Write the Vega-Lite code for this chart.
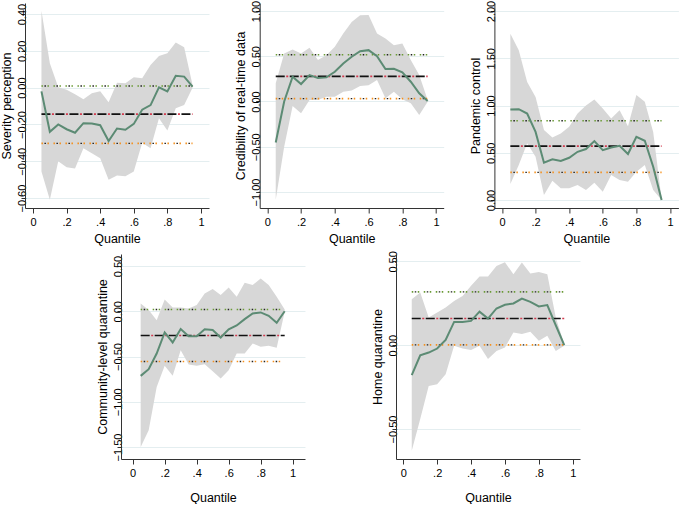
{
  "$schema": "https://vega.github.io/schema/vega-lite/v6.json",
  "background": "white",
  "padding": {"left": 0, "top": 0, "right": 0, "bottom": 0},
  "autosize": {"type": "pad"},
  "config": {
    "view": {"stroke": null},
    "font": "Liberation Sans",
    "axis": {"labelFont": "Liberation Sans", "titleFont": "Liberation Sans", "labelColor": "#000", "titleColor": "#000", "titleFontWeight": "normal", "domainColor": "#333", "tickColor": "#333", "labelFontSize": 11, "titleFontSize": 12.5, "labelOverlap": false},
    "axisY": {"labelAngle": -90, "format": ".2f", "grid": true, "gridColor": "#e4eef0", "gridWidth": 1, "tickSize": 4, "labelPadding": -6, "titlePadding": 3, "labelAlign": "center", "labelBaseline": "bottom", "labelOverlap": false},
    "axisX": {"grid": false, "tickSize": 5, "labelPadding": 3, "titlePadding": 5, "labelOverlap": false, "labelFlush": false}
  },
  "datasets": {
    "qr": [
      {"panel": "p1", "q": 0.05, "b": -0.02, "lo": -0.455, "hi": 0.418},
      {"panel": "p1", "q": 0.10, "b": -0.24, "lo": -0.609, "hi": 0.132},
      {"panel": "p1", "q": 0.15, "b": -0.20, "lo": -0.40, "hi": 0.002},
      {"panel": "p1", "q": 0.20, "b": -0.226, "lo": -0.432, "hi": -0.012},
      {"panel": "p1", "q": 0.25, "b": -0.245, "lo": -0.44, "hi": -0.036},
      {"panel": "p1", "q": 0.30, "b": -0.193, "lo": -0.329, "hi": -0.063},
      {"panel": "p1", "q": 0.35, "b": -0.195, "lo": -0.356, "hi": -0.03},
      {"panel": "p1", "q": 0.40, "b": -0.204, "lo": -0.383, "hi": -0.02},
      {"panel": "p1", "q": 0.45, "b": -0.29, "lo": -0.50, "hi": -0.08},
      {"panel": "p1", "q": 0.50, "b": -0.222, "lo": -0.477, "hi": 0.027},
      {"panel": "p1", "q": 0.55, "b": -0.229, "lo": -0.482, "hi": 0.024},
      {"panel": "p1", "q": 0.60, "b": -0.197, "lo": -0.455, "hi": 0.056},
      {"panel": "p1", "q": 0.65, "b": -0.12, "lo": -0.30, "hi": 0.051},
      {"panel": "p1", "q": 0.70, "b": -0.095, "lo": -0.329, "hi": 0.123},
      {"panel": "p1", "q": 0.75, "b": 0.002, "lo": -0.166, "hi": 0.172},
      {"panel": "p1", "q": 0.80, "b": -0.021, "lo": -0.233, "hi": 0.187},
      {"panel": "p1", "q": 0.85, "b": 0.064, "lo": -0.112, "hi": 0.245},
      {"panel": "p1", "q": 0.90, "b": 0.06, "lo": -0.094, "hi": 0.219},
      {"panel": "p1", "q": 0.95, "b": 0.006, "lo": 0.0, "hi": 0.015},

      {"panel": "p2", "q": 0.05, "b": -0.453, "lo": -1.085, "hi": 0.2},
      {"panel": "p2", "q": 0.10, "b": 0.0, "lo": -0.5, "hi": 0.53},
      {"panel": "p2", "q": 0.15, "b": 0.273, "lo": -0.05, "hi": 0.574},
      {"panel": "p2", "q": 0.20, "b": 0.193, "lo": -0.13, "hi": 0.53},
      {"panel": "p2", "q": 0.25, "b": 0.292, "lo": 0.017, "hi": 0.593},
      {"panel": "p2", "q": 0.30, "b": 0.259, "lo": 0.017, "hi": 0.457},
      {"panel": "p2", "q": 0.35, "b": 0.266, "lo": 0.053, "hi": 0.512},
      {"panel": "p2", "q": 0.40, "b": 0.328, "lo": 0.053, "hi": 0.604},
      {"panel": "p2", "q": 0.45, "b": 0.42, "lo": 0.108, "hi": 0.75},
      {"panel": "p2", "q": 0.50, "b": 0.494, "lo": 0.12, "hi": 0.879},
      {"panel": "p2", "q": 0.55, "b": 0.556, "lo": 0.17, "hi": 0.952},
      {"panel": "p2", "q": 0.60, "b": 0.567, "lo": 0.18, "hi": 0.956},
      {"panel": "p2", "q": 0.65, "b": 0.50, "lo": 0.237, "hi": 0.75},
      {"panel": "p2", "q": 0.70, "b": 0.358, "lo": 0.035, "hi": 0.695},
      {"panel": "p2", "q": 0.75, "b": 0.361, "lo": 0.108, "hi": 0.622},
      {"panel": "p2", "q": 0.80, "b": 0.321, "lo": 0.024, "hi": 0.64},
      {"panel": "p2", "q": 0.85, "b": 0.218, "lo": -0.02, "hi": 0.457},
      {"panel": "p2", "q": 0.90, "b": 0.09, "lo": -0.149, "hi": 0.292},
      {"panel": "p2", "q": 0.95, "b": 0.005, "lo": -0.002, "hi": 0.017},

      {"panel": "p3", "q": 0.05, "b": 0.958, "lo": 0.169, "hi": 1.76},
      {"panel": "p3", "q": 0.10, "b": 0.961, "lo": 0.37, "hi": 1.585},
      {"panel": "p3", "q": 0.15, "b": 0.915, "lo": 0.6, "hi": 1.25},
      {"panel": "p3", "q": 0.20, "b": 0.72, "lo": 0.458, "hi": 1.09},
      {"panel": "p3", "q": 0.25, "b": 0.394, "lo": 0.053, "hi": 0.74},
      {"panel": "p3", "q": 0.30, "b": 0.43, "lo": 0.204, "hi": 0.662},
      {"panel": "p3", "q": 0.35, "b": 0.412, "lo": 0.123, "hi": 0.704},
      {"panel": "p3", "q": 0.40, "b": 0.447, "lo": 0.123, "hi": 0.775},
      {"panel": "p3", "q": 0.45, "b": 0.51, "lo": 0.158, "hi": 0.915},
      {"panel": "p3", "q": 0.50, "b": 0.539, "lo": 0.106, "hi": 1.0},
      {"panel": "p3", "q": 0.55, "b": 0.623, "lo": 0.183, "hi": 1.063},
      {"panel": "p3", "q": 0.60, "b": 0.528, "lo": 0.088, "hi": 0.968},
      {"panel": "p3", "q": 0.65, "b": 0.556, "lo": 0.264, "hi": 0.863},
      {"panel": "p3", "q": 0.70, "b": 0.574, "lo": 0.211, "hi": 0.95},
      {"panel": "p3", "q": 0.75, "b": 0.486, "lo": 0.194, "hi": 0.78},
      {"panel": "p3", "q": 0.80, "b": 0.669, "lo": 0.3, "hi": 1.11},
      {"panel": "p3", "q": 0.85, "b": 0.627, "lo": 0.37, "hi": 1.04},
      {"panel": "p3", "q": 0.90, "b": 0.352, "lo": 0.106, "hi": 0.72},
      {"panel": "p3", "q": 0.95, "b": 0.0, "lo": 0.0, "hi": 0.007},

      {"panel": "p4", "q": 0.05, "b": -0.714, "lo": -1.50, "hi": 0.087},
      {"panel": "p4", "q": 0.10, "b": -0.64, "lo": -1.315, "hi": 0.013},
      {"panel": "p4", "q": 0.15, "b": -0.467, "lo": -0.836, "hi": -0.098},
      {"panel": "p4", "q": 0.20, "b": -0.234, "lo": -0.603, "hi": 0.131},
      {"panel": "p4", "q": 0.25, "b": -0.345, "lo": -0.714, "hi": 0.042},
      {"panel": "p4", "q": 0.30, "b": -0.197, "lo": -0.43, "hi": 0.042},
      {"panel": "p4", "q": 0.35, "b": -0.275, "lo": -0.589, "hi": 0.031},
      {"panel": "p4", "q": 0.40, "b": -0.275, "lo": -0.603, "hi": 0.068},
      {"panel": "p4", "q": 0.45, "b": -0.20, "lo": -0.585, "hi": 0.197},
      {"panel": "p4", "q": 0.50, "b": -0.208, "lo": -0.662, "hi": 0.245},
      {"panel": "p4", "q": 0.55, "b": -0.29, "lo": -0.744, "hi": 0.179},
      {"panel": "p4", "q": 0.60, "b": -0.20, "lo": -0.651, "hi": 0.264},
      {"panel": "p4", "q": 0.65, "b": -0.157, "lo": -0.467, "hi": 0.16},
      {"panel": "p4", "q": 0.70, "b": -0.087, "lo": -0.467, "hi": 0.315},
      {"panel": "p4", "q": 0.75, "b": -0.024, "lo": -0.356, "hi": 0.29},
      {"panel": "p4", "q": 0.80, "b": -0.013, "lo": -0.393, "hi": 0.363},
      {"panel": "p4", "q": 0.85, "b": -0.05, "lo": -0.382, "hi": 0.29},
      {"panel": "p4", "q": 0.90, "b": -0.127, "lo": -0.404, "hi": 0.16},
      {"panel": "p4", "q": 0.95, "b": 0.0, "lo": -0.006, "hi": 0.02},

      {"panel": "p5", "q": 0.05, "b": -0.179, "lo": -0.63, "hi": 0.274},
      {"panel": "p5", "q": 0.10, "b": -0.06, "lo": -0.441, "hi": 0.314},
      {"panel": "p5", "q": 0.15, "b": -0.044, "lo": -0.243, "hi": 0.165},
      {"panel": "p5", "q": 0.20, "b": -0.02, "lo": -0.233, "hi": 0.195},
      {"panel": "p5", "q": 0.25, "b": 0.032, "lo": -0.173, "hi": 0.225},
      {"panel": "p5", "q": 0.30, "b": 0.139, "lo": -0.004, "hi": 0.264},
      {"panel": "p5", "q": 0.35, "b": 0.139, "lo": -0.02, "hi": 0.294},
      {"panel": "p5", "q": 0.40, "b": 0.145, "lo": -0.028, "hi": 0.354},
      {"panel": "p5", "q": 0.45, "b": 0.2, "lo": -0.004, "hi": 0.41},
      {"panel": "p5", "q": 0.50, "b": 0.159, "lo": -0.083, "hi": 0.41},
      {"panel": "p5", "q": 0.55, "b": 0.219, "lo": -0.034, "hi": 0.473},
      {"panel": "p5", "q": 0.60, "b": 0.241, "lo": -0.014, "hi": 0.495},
      {"panel": "p5", "q": 0.65, "b": 0.249, "lo": 0.076, "hi": 0.423},
      {"panel": "p5", "q": 0.70, "b": 0.278, "lo": 0.066, "hi": 0.493},
      {"panel": "p5", "q": 0.75, "b": 0.258, "lo": 0.08, "hi": 0.427},
      {"panel": "p5", "q": 0.80, "b": 0.231, "lo": 0.026, "hi": 0.437},
      {"panel": "p5", "q": 0.85, "b": 0.239, "lo": 0.056, "hi": 0.423},
      {"panel": "p5", "q": 0.90, "b": 0.119, "lo": -0.034, "hi": 0.165},
      {"panel": "p5", "q": 0.95, "b": 0.0, "lo": -0.004, "hi": 0.006}
    ],
    "ols": [
      {"panel": "p1", "q0": 0.05, "q1": 0.95, "b": -0.144, "lo": -0.303, "hi": 0.009},
      {"panel": "p2", "q0": 0.05, "q1": 0.95, "b": 0.277, "lo": 0.031, "hi": 0.516},
      {"panel": "p3", "q0": 0.05, "q1": 0.95, "b": 0.57, "lo": 0.292, "hi": 0.838},
      {"panel": "p4", "q0": 0.05, "q1": 0.95, "b": -0.268, "lo": -0.555, "hi": 0.02},
      {"panel": "p5", "q0": 0.05, "q1": 0.95, "b": 0.159, "lo": 0.002, "hi": 0.318}
    ]
  },
  "spacing": 5,
  "vconcat": [
    {
      "bounds": "flush",
      "spacing": 50.7,
      "hconcat": [
        {
          "width": 184, "height": 205,
          "layer": [
            {"data": {"name": "qr"}, "transform": [{"filter": "datum.panel == 'p1'"}], "mark": {"type": "area", "color": "#d7d7d7", "opacity": 1},
             "encoding": {"x": {"field": "q", "type": "quantitative", "title": "Quantile", "scale": {"domain": [-0.048, 1.048], "nice": false, "zero": false}, "axis": {"values": [0, 0.2, 0.4, 0.6, 0.8, 1], "labelOverlap": false, "labelExpr": "datum.value == 0 ? '0' : datum.value == 1 ? '1' : replace(format(datum.value, '.1f'), '0.', '.')"}},
                          "y": {"field": "lo", "type": "quantitative", "title": "Severity perception", "scale": {"domain": [-0.654, 0.46], "nice": false, "zero": false}, "axis": {"values": [-0.6, -0.4, -0.2, 0, 0.2, 0.4]}},
                          "y2": {"field": "hi"}}},
            {"data": {"name": "ols"}, "transform": [{"filter": "datum.panel == 'p1'"}], "mark": {"type": "rule", "color": "#6a9a35", "strokeWidth": 1.6, "strokeDash": [1.5, 4.5]},
             "encoding": {"x": {"field": "q0", "type": "quantitative", "title": "Quantile", "axis": {"values": [0, 0.2, 0.4, 0.6, 0.8, 1], "labelOverlap": false, "labelExpr": "datum.value == 0 ? '0' : datum.value == 1 ? '1' : replace(format(datum.value, '.1f'), '0.', '.')"}}, "x2": {"field": "q1"}, "y": {"field": "hi", "type": "quantitative", "title": "Severity perception"}}},
            {"data": {"name": "ols"}, "transform": [{"filter": "datum.panel == 'p1'"}], "mark": {"type": "rule", "color": "#222", "strokeWidth": 1.4, "strokeDash": [1.5, 10.5], "strokeDashOffset": -3},
             "encoding": {"x": {"field": "q0", "type": "quantitative", "title": "Quantile", "axis": {"values": [0, 0.2, 0.4, 0.6, 0.8, 1], "labelOverlap": false, "labelExpr": "datum.value == 0 ? '0' : datum.value == 1 ? '1' : replace(format(datum.value, '.1f'), '0.', '.')"}}, "x2": {"field": "q1"}, "y": {"field": "hi", "type": "quantitative", "title": "Severity perception"}}},
            {"data": {"name": "ols"}, "transform": [{"filter": "datum.panel == 'p1'"}], "mark": {"type": "rule", "color": "#f5901c", "strokeWidth": 1.6, "strokeDash": [1.5, 4.5]},
             "encoding": {"x": {"field": "q0", "type": "quantitative", "title": "Quantile", "axis": {"values": [0, 0.2, 0.4, 0.6, 0.8, 1], "labelOverlap": false, "labelExpr": "datum.value == 0 ? '0' : datum.value == 1 ? '1' : replace(format(datum.value, '.1f'), '0.', '.')"}}, "x2": {"field": "q1"}, "y": {"field": "lo", "type": "quantitative", "title": "Severity perception"}}},
            {"data": {"name": "ols"}, "transform": [{"filter": "datum.panel == 'p1'"}], "mark": {"type": "rule", "color": "#222", "strokeWidth": 1.4, "strokeDash": [1.5, 10.5], "strokeDashOffset": -3},
             "encoding": {"x": {"field": "q0", "type": "quantitative", "title": "Quantile", "axis": {"values": [0, 0.2, 0.4, 0.6, 0.8, 1], "labelOverlap": false, "labelExpr": "datum.value == 0 ? '0' : datum.value == 1 ? '1' : replace(format(datum.value, '.1f'), '0.', '.')"}}, "x2": {"field": "q1"}, "y": {"field": "lo", "type": "quantitative", "title": "Severity perception"}}},
            {"data": {"name": "ols"}, "transform": [{"filter": "datum.panel == 'p1'"}], "mark": {"type": "rule", "color": "#111", "strokeWidth": 1.6, "strokeDash": [9, 5]},
             "encoding": {"x": {"field": "q0", "type": "quantitative", "title": "Quantile", "axis": {"values": [0, 0.2, 0.4, 0.6, 0.8, 1], "labelOverlap": false, "labelExpr": "datum.value == 0 ? '0' : datum.value == 1 ? '1' : replace(format(datum.value, '.1f'), '0.', '.')"}}, "x2": {"field": "q1"}, "y": {"field": "b", "type": "quantitative", "title": "Severity perception"}}},
            {"data": {"name": "ols"}, "transform": [{"filter": "datum.panel == 'p1'"}], "mark": {"type": "rule", "color": "#d23a4e", "strokeWidth": 1.6, "strokeDash": [2, 12], "strokeDashOffset": 3.5},
             "encoding": {"x": {"field": "q0", "type": "quantitative", "title": "Quantile", "axis": {"values": [0, 0.2, 0.4, 0.6, 0.8, 1], "labelOverlap": false, "labelExpr": "datum.value == 0 ? '0' : datum.value == 1 ? '1' : replace(format(datum.value, '.1f'), '0.', '.')"}}, "x2": {"field": "q1"}, "y": {"field": "b", "type": "quantitative", "title": "Severity perception"}}},
            {"data": {"name": "qr"}, "transform": [{"filter": "datum.panel == 'p1'"}], "mark": {"type": "line", "color": "#5c8b74", "strokeWidth": 2},
             "encoding": {"x": {"field": "q", "type": "quantitative", "title": "Quantile", "axis": {"values": [0, 0.2, 0.4, 0.6, 0.8, 1], "labelOverlap": false, "labelExpr": "datum.value == 0 ? '0' : datum.value == 1 ? '1' : replace(format(datum.value, '.1f'), '0.', '.')"}}, "y": {"field": "b", "type": "quantitative", "title": "Severity perception"}}}
          ]
        },
        {
          "width": 184, "height": 205,
          "layer": [
            {"data": {"name": "qr"}, "transform": [{"filter": "datum.panel == 'p2'"}], "mark": {"type": "area", "color": "#d7d7d7", "opacity": 1},
             "encoding": {"x": {"field": "q", "type": "quantitative", "title": "Quantile", "scale": {"domain": [-0.045, 1.045], "nice": false, "zero": false}, "axis": {"values": [0, 0.2, 0.4, 0.6, 0.8, 1], "labelOverlap": false, "labelExpr": "datum.value == 0 ? '0' : datum.value == 1 ? '1' : replace(format(datum.value, '.1f'), '0.', '.')"}},
                          "y": {"field": "lo", "type": "quantitative", "title": "Credibility of real-time data", "scale": {"domain": [-1.177, 1.088], "nice": false, "zero": false}, "axis": {"values": [-1, -0.5, 0, 0.5, 1]}},
                          "y2": {"field": "hi"}}},
            {"data": {"name": "ols"}, "transform": [{"filter": "datum.panel == 'p2'"}], "mark": {"type": "rule", "color": "#6a9a35", "strokeWidth": 1.6, "strokeDash": [1.5, 4.5]},
             "encoding": {"x": {"field": "q0", "type": "quantitative", "title": "Quantile", "axis": {"values": [0, 0.2, 0.4, 0.6, 0.8, 1], "labelOverlap": false, "labelExpr": "datum.value == 0 ? '0' : datum.value == 1 ? '1' : replace(format(datum.value, '.1f'), '0.', '.')"}}, "x2": {"field": "q1"}, "y": {"field": "hi", "type": "quantitative", "title": "Credibility of real-time data"}}},
            {"data": {"name": "ols"}, "transform": [{"filter": "datum.panel == 'p2'"}], "mark": {"type": "rule", "color": "#222", "strokeWidth": 1.4, "strokeDash": [1.5, 10.5], "strokeDashOffset": -3},
             "encoding": {"x": {"field": "q0", "type": "quantitative", "title": "Quantile", "axis": {"values": [0, 0.2, 0.4, 0.6, 0.8, 1], "labelOverlap": false, "labelExpr": "datum.value == 0 ? '0' : datum.value == 1 ? '1' : replace(format(datum.value, '.1f'), '0.', '.')"}}, "x2": {"field": "q1"}, "y": {"field": "hi", "type": "quantitative", "title": "Credibility of real-time data"}}},
            {"data": {"name": "ols"}, "transform": [{"filter": "datum.panel == 'p2'"}], "mark": {"type": "rule", "color": "#f5901c", "strokeWidth": 1.6, "strokeDash": [1.5, 4.5]},
             "encoding": {"x": {"field": "q0", "type": "quantitative", "title": "Quantile", "axis": {"values": [0, 0.2, 0.4, 0.6, 0.8, 1], "labelOverlap": false, "labelExpr": "datum.value == 0 ? '0' : datum.value == 1 ? '1' : replace(format(datum.value, '.1f'), '0.', '.')"}}, "x2": {"field": "q1"}, "y": {"field": "lo", "type": "quantitative", "title": "Credibility of real-time data"}}},
            {"data": {"name": "ols"}, "transform": [{"filter": "datum.panel == 'p2'"}], "mark": {"type": "rule", "color": "#222", "strokeWidth": 1.4, "strokeDash": [1.5, 10.5], "strokeDashOffset": -3},
             "encoding": {"x": {"field": "q0", "type": "quantitative", "title": "Quantile", "axis": {"values": [0, 0.2, 0.4, 0.6, 0.8, 1], "labelOverlap": false, "labelExpr": "datum.value == 0 ? '0' : datum.value == 1 ? '1' : replace(format(datum.value, '.1f'), '0.', '.')"}}, "x2": {"field": "q1"}, "y": {"field": "lo", "type": "quantitative", "title": "Credibility of real-time data"}}},
            {"data": {"name": "ols"}, "transform": [{"filter": "datum.panel == 'p2'"}], "mark": {"type": "rule", "color": "#111", "strokeWidth": 1.6, "strokeDash": [9, 5]},
             "encoding": {"x": {"field": "q0", "type": "quantitative", "title": "Quantile", "axis": {"values": [0, 0.2, 0.4, 0.6, 0.8, 1], "labelOverlap": false, "labelExpr": "datum.value == 0 ? '0' : datum.value == 1 ? '1' : replace(format(datum.value, '.1f'), '0.', '.')"}}, "x2": {"field": "q1"}, "y": {"field": "b", "type": "quantitative", "title": "Credibility of real-time data"}}},
            {"data": {"name": "ols"}, "transform": [{"filter": "datum.panel == 'p2'"}], "mark": {"type": "rule", "color": "#d23a4e", "strokeWidth": 1.6, "strokeDash": [2, 12], "strokeDashOffset": 3.5},
             "encoding": {"x": {"field": "q0", "type": "quantitative", "title": "Quantile", "axis": {"values": [0, 0.2, 0.4, 0.6, 0.8, 1], "labelOverlap": false, "labelExpr": "datum.value == 0 ? '0' : datum.value == 1 ? '1' : replace(format(datum.value, '.1f'), '0.', '.')"}}, "x2": {"field": "q1"}, "y": {"field": "b", "type": "quantitative", "title": "Credibility of real-time data"}}},
            {"data": {"name": "qr"}, "transform": [{"filter": "datum.panel == 'p2'"}], "mark": {"type": "line", "color": "#5c8b74", "strokeWidth": 2},
             "encoding": {"x": {"field": "q", "type": "quantitative", "title": "Quantile", "axis": {"values": [0, 0.2, 0.4, 0.6, 0.8, 1], "labelOverlap": false, "labelExpr": "datum.value == 0 ? '0' : datum.value == 1 ? '1' : replace(format(datum.value, '.1f'), '0.', '.')"}}, "y": {"field": "b", "type": "quantitative", "title": "Credibility of real-time data"}}}
          ]
        },
        {
          "width": 184, "height": 205,
          "layer": [
            {"data": {"name": "qr"}, "transform": [{"filter": "datum.panel == 'p3'"}], "mark": {"type": "area", "color": "#d7d7d7", "opacity": 1},
             "encoding": {"x": {"field": "q", "type": "quantitative", "title": "Quantile", "scale": {"domain": [-0.045, 1.05], "nice": false, "zero": false}, "axis": {"values": [0, 0.2, 0.4, 0.6, 0.8, 1], "labelOverlap": false, "labelExpr": "datum.value == 0 ? '0' : datum.value == 1 ? '1' : replace(format(datum.value, '.1f'), '0.', '.')"}},
                          "y": {"field": "lo", "type": "quantitative", "title": "Pandemic control", "scale": {"domain": [-0.085, 2.085], "nice": false, "zero": false}, "axis": {"values": [0, 0.5, 1, 1.5, 2]}},
                          "y2": {"field": "hi"}}},
            {"data": {"name": "ols"}, "transform": [{"filter": "datum.panel == 'p3'"}], "mark": {"type": "rule", "color": "#6a9a35", "strokeWidth": 1.6, "strokeDash": [1.5, 4.5]},
             "encoding": {"x": {"field": "q0", "type": "quantitative", "title": "Quantile", "axis": {"values": [0, 0.2, 0.4, 0.6, 0.8, 1], "labelOverlap": false, "labelExpr": "datum.value == 0 ? '0' : datum.value == 1 ? '1' : replace(format(datum.value, '.1f'), '0.', '.')"}}, "x2": {"field": "q1"}, "y": {"field": "hi", "type": "quantitative", "title": "Pandemic control"}}},
            {"data": {"name": "ols"}, "transform": [{"filter": "datum.panel == 'p3'"}], "mark": {"type": "rule", "color": "#222", "strokeWidth": 1.4, "strokeDash": [1.5, 10.5], "strokeDashOffset": -3},
             "encoding": {"x": {"field": "q0", "type": "quantitative", "title": "Quantile", "axis": {"values": [0, 0.2, 0.4, 0.6, 0.8, 1], "labelOverlap": false, "labelExpr": "datum.value == 0 ? '0' : datum.value == 1 ? '1' : replace(format(datum.value, '.1f'), '0.', '.')"}}, "x2": {"field": "q1"}, "y": {"field": "hi", "type": "quantitative", "title": "Pandemic control"}}},
            {"data": {"name": "ols"}, "transform": [{"filter": "datum.panel == 'p3'"}], "mark": {"type": "rule", "color": "#f5901c", "strokeWidth": 1.6, "strokeDash": [1.5, 4.5]},
             "encoding": {"x": {"field": "q0", "type": "quantitative", "title": "Quantile", "axis": {"values": [0, 0.2, 0.4, 0.6, 0.8, 1], "labelOverlap": false, "labelExpr": "datum.value == 0 ? '0' : datum.value == 1 ? '1' : replace(format(datum.value, '.1f'), '0.', '.')"}}, "x2": {"field": "q1"}, "y": {"field": "lo", "type": "quantitative", "title": "Pandemic control"}}},
            {"data": {"name": "ols"}, "transform": [{"filter": "datum.panel == 'p3'"}], "mark": {"type": "rule", "color": "#222", "strokeWidth": 1.4, "strokeDash": [1.5, 10.5], "strokeDashOffset": -3},
             "encoding": {"x": {"field": "q0", "type": "quantitative", "title": "Quantile", "axis": {"values": [0, 0.2, 0.4, 0.6, 0.8, 1], "labelOverlap": false, "labelExpr": "datum.value == 0 ? '0' : datum.value == 1 ? '1' : replace(format(datum.value, '.1f'), '0.', '.')"}}, "x2": {"field": "q1"}, "y": {"field": "lo", "type": "quantitative", "title": "Pandemic control"}}},
            {"data": {"name": "ols"}, "transform": [{"filter": "datum.panel == 'p3'"}], "mark": {"type": "rule", "color": "#111", "strokeWidth": 1.6, "strokeDash": [9, 5]},
             "encoding": {"x": {"field": "q0", "type": "quantitative", "title": "Quantile", "axis": {"values": [0, 0.2, 0.4, 0.6, 0.8, 1], "labelOverlap": false, "labelExpr": "datum.value == 0 ? '0' : datum.value == 1 ? '1' : replace(format(datum.value, '.1f'), '0.', '.')"}}, "x2": {"field": "q1"}, "y": {"field": "b", "type": "quantitative", "title": "Pandemic control"}}},
            {"data": {"name": "ols"}, "transform": [{"filter": "datum.panel == 'p3'"}], "mark": {"type": "rule", "color": "#d23a4e", "strokeWidth": 1.6, "strokeDash": [2, 12], "strokeDashOffset": 3.5},
             "encoding": {"x": {"field": "q0", "type": "quantitative", "title": "Quantile", "axis": {"values": [0, 0.2, 0.4, 0.6, 0.8, 1], "labelOverlap": false, "labelExpr": "datum.value == 0 ? '0' : datum.value == 1 ? '1' : replace(format(datum.value, '.1f'), '0.', '.')"}}, "x2": {"field": "q1"}, "y": {"field": "b", "type": "quantitative", "title": "Pandemic control"}}},
            {"data": {"name": "qr"}, "transform": [{"filter": "datum.panel == 'p3'"}], "mark": {"type": "line", "color": "#5c8b74", "strokeWidth": 2},
             "encoding": {"x": {"field": "q", "type": "quantitative", "title": "Quantile", "axis": {"values": [0, 0.2, 0.4, 0.6, 0.8, 1], "labelOverlap": false, "labelExpr": "datum.value == 0 ? '0' : datum.value == 1 ? '1' : replace(format(datum.value, '.1f'), '0.', '.')"}}, "y": {"field": "b", "type": "quantitative", "title": "Pandemic control"}}}
          ]
        }
      ]
    },
    {
      "bounds": "flush",
      "spacing": 91,
      "hconcat": [
        {"width": 5, "height": 205, "data": {"values": []}, "mark": {"type": "point", "opacity": 0}, "encoding": {}},
        {
          "width": 184, "height": 205,
          "layer": [
            {"data": {"name": "qr"}, "transform": [{"filter": "datum.panel == 'p4'"}], "mark": {"type": "area", "color": "#d7d7d7", "opacity": 1},
             "encoding": {"x": {"field": "q", "type": "quantitative", "title": "Quantile", "scale": {"domain": [-0.073, 1.077], "nice": false, "zero": false}, "axis": {"values": [0, 0.2, 0.4, 0.6, 0.8, 1], "titlePadding": 13, "labelOverlap": false, "labelExpr": "datum.value == 0 ? '0' : datum.value == 1 ? '1' : replace(format(datum.value, '.1f'), '0.', '.')"}},
                          "y": {"field": "lo", "type": "quantitative", "title": "Community-level quarantine", "scale": {"domain": [-1.633, 0.633], "nice": false, "zero": false}, "axis": {"values": [-1.5, -1, -0.5, 0, 0.5]}},
                          "y2": {"field": "hi"}}},
            {"data": {"name": "ols"}, "transform": [{"filter": "datum.panel == 'p4'"}], "mark": {"type": "rule", "color": "#6a9a35", "strokeWidth": 1.6, "strokeDash": [1.5, 4.5]},
             "encoding": {"x": {"field": "q0", "type": "quantitative", "title": "Quantile", "axis": {"values": [0, 0.2, 0.4, 0.6, 0.8, 1], "titlePadding": 13, "labelOverlap": false, "labelExpr": "datum.value == 0 ? '0' : datum.value == 1 ? '1' : replace(format(datum.value, '.1f'), '0.', '.')"}}, "x2": {"field": "q1"}, "y": {"field": "hi", "type": "quantitative", "title": "Community-level quarantine"}}},
            {"data": {"name": "ols"}, "transform": [{"filter": "datum.panel == 'p4'"}], "mark": {"type": "rule", "color": "#222", "strokeWidth": 1.4, "strokeDash": [1.5, 10.5], "strokeDashOffset": -3},
             "encoding": {"x": {"field": "q0", "type": "quantitative", "title": "Quantile", "axis": {"values": [0, 0.2, 0.4, 0.6, 0.8, 1], "titlePadding": 13, "labelOverlap": false, "labelExpr": "datum.value == 0 ? '0' : datum.value == 1 ? '1' : replace(format(datum.value, '.1f'), '0.', '.')"}}, "x2": {"field": "q1"}, "y": {"field": "hi", "type": "quantitative", "title": "Community-level quarantine"}}},
            {"data": {"name": "ols"}, "transform": [{"filter": "datum.panel == 'p4'"}], "mark": {"type": "rule", "color": "#f5901c", "strokeWidth": 1.6, "strokeDash": [1.5, 4.5]},
             "encoding": {"x": {"field": "q0", "type": "quantitative", "title": "Quantile", "axis": {"values": [0, 0.2, 0.4, 0.6, 0.8, 1], "titlePadding": 13, "labelOverlap": false, "labelExpr": "datum.value == 0 ? '0' : datum.value == 1 ? '1' : replace(format(datum.value, '.1f'), '0.', '.')"}}, "x2": {"field": "q1"}, "y": {"field": "lo", "type": "quantitative", "title": "Community-level quarantine"}}},
            {"data": {"name": "ols"}, "transform": [{"filter": "datum.panel == 'p4'"}], "mark": {"type": "rule", "color": "#222", "strokeWidth": 1.4, "strokeDash": [1.5, 10.5], "strokeDashOffset": -3},
             "encoding": {"x": {"field": "q0", "type": "quantitative", "title": "Quantile", "axis": {"values": [0, 0.2, 0.4, 0.6, 0.8, 1], "titlePadding": 13, "labelOverlap": false, "labelExpr": "datum.value == 0 ? '0' : datum.value == 1 ? '1' : replace(format(datum.value, '.1f'), '0.', '.')"}}, "x2": {"field": "q1"}, "y": {"field": "lo", "type": "quantitative", "title": "Community-level quarantine"}}},
            {"data": {"name": "ols"}, "transform": [{"filter": "datum.panel == 'p4'"}], "mark": {"type": "rule", "color": "#111", "strokeWidth": 1.6, "strokeDash": [9, 5]},
             "encoding": {"x": {"field": "q0", "type": "quantitative", "title": "Quantile", "axis": {"values": [0, 0.2, 0.4, 0.6, 0.8, 1], "titlePadding": 13, "labelOverlap": false, "labelExpr": "datum.value == 0 ? '0' : datum.value == 1 ? '1' : replace(format(datum.value, '.1f'), '0.', '.')"}}, "x2": {"field": "q1"}, "y": {"field": "b", "type": "quantitative", "title": "Community-level quarantine"}}},
            {"data": {"name": "ols"}, "transform": [{"filter": "datum.panel == 'p4'"}], "mark": {"type": "rule", "color": "#d23a4e", "strokeWidth": 1.6, "strokeDash": [2, 12], "strokeDashOffset": 3.5},
             "encoding": {"x": {"field": "q0", "type": "quantitative", "title": "Quantile", "axis": {"values": [0, 0.2, 0.4, 0.6, 0.8, 1], "titlePadding": 13, "labelOverlap": false, "labelExpr": "datum.value == 0 ? '0' : datum.value == 1 ? '1' : replace(format(datum.value, '.1f'), '0.', '.')"}}, "x2": {"field": "q1"}, "y": {"field": "b", "type": "quantitative", "title": "Community-level quarantine"}}},
            {"data": {"name": "qr"}, "transform": [{"filter": "datum.panel == 'p4'"}], "mark": {"type": "line", "color": "#5c8b74", "strokeWidth": 2},
             "encoding": {"x": {"field": "q", "type": "quantitative", "title": "Quantile", "axis": {"values": [0, 0.2, 0.4, 0.6, 0.8, 1], "titlePadding": 13, "labelOverlap": false, "labelExpr": "datum.value == 0 ? '0' : datum.value == 1 ? '1' : replace(format(datum.value, '.1f'), '0.', '.')"}}, "y": {"field": "b", "type": "quantitative", "title": "Community-level quarantine"}}}
          ]
        },
        {
          "width": 184, "height": 205,
          "layer": [
            {"data": {"name": "qr"}, "transform": [{"filter": "datum.panel == 'p5'"}], "mark": {"type": "area", "color": "#d7d7d7", "opacity": 1},
             "encoding": {"x": {"field": "q", "type": "quantitative", "title": "Quantile", "scale": {"domain": [-0.043, 1.043], "nice": false, "zero": false}, "axis": {"values": [0, 0.2, 0.4, 0.6, 0.8, 1], "titlePadding": 13, "labelOverlap": false, "labelExpr": "datum.value == 0 ? '0' : datum.value == 1 ? '1' : replace(format(datum.value, '.1f'), '0.', '.')"}},
                          "y": {"field": "lo", "type": "quantitative", "title": "Home quarantine", "scale": {"domain": [-0.679, 0.544], "nice": false, "zero": false}, "axis": {"values": [-0.5, 0, 0.5]}},
                          "y2": {"field": "hi"}}},
            {"data": {"name": "ols"}, "transform": [{"filter": "datum.panel == 'p5'"}], "mark": {"type": "rule", "color": "#6a9a35", "strokeWidth": 1.6, "strokeDash": [1.5, 4.5]},
             "encoding": {"x": {"field": "q0", "type": "quantitative", "title": "Quantile", "axis": {"values": [0, 0.2, 0.4, 0.6, 0.8, 1], "titlePadding": 13, "labelOverlap": false, "labelExpr": "datum.value == 0 ? '0' : datum.value == 1 ? '1' : replace(format(datum.value, '.1f'), '0.', '.')"}}, "x2": {"field": "q1"}, "y": {"field": "hi", "type": "quantitative", "title": "Home quarantine"}}},
            {"data": {"name": "ols"}, "transform": [{"filter": "datum.panel == 'p5'"}], "mark": {"type": "rule", "color": "#222", "strokeWidth": 1.4, "strokeDash": [1.5, 10.5], "strokeDashOffset": -3},
             "encoding": {"x": {"field": "q0", "type": "quantitative", "title": "Quantile", "axis": {"values": [0, 0.2, 0.4, 0.6, 0.8, 1], "titlePadding": 13, "labelOverlap": false, "labelExpr": "datum.value == 0 ? '0' : datum.value == 1 ? '1' : replace(format(datum.value, '.1f'), '0.', '.')"}}, "x2": {"field": "q1"}, "y": {"field": "hi", "type": "quantitative", "title": "Home quarantine"}}},
            {"data": {"name": "ols"}, "transform": [{"filter": "datum.panel == 'p5'"}], "mark": {"type": "rule", "color": "#f5901c", "strokeWidth": 1.6, "strokeDash": [1.5, 4.5]},
             "encoding": {"x": {"field": "q0", "type": "quantitative", "title": "Quantile", "axis": {"values": [0, 0.2, 0.4, 0.6, 0.8, 1], "titlePadding": 13, "labelOverlap": false, "labelExpr": "datum.value == 0 ? '0' : datum.value == 1 ? '1' : replace(format(datum.value, '.1f'), '0.', '.')"}}, "x2": {"field": "q1"}, "y": {"field": "lo", "type": "quantitative", "title": "Home quarantine"}}},
            {"data": {"name": "ols"}, "transform": [{"filter": "datum.panel == 'p5'"}], "mark": {"type": "rule", "color": "#222", "strokeWidth": 1.4, "strokeDash": [1.5, 10.5], "strokeDashOffset": -3},
             "encoding": {"x": {"field": "q0", "type": "quantitative", "title": "Quantile", "axis": {"values": [0, 0.2, 0.4, 0.6, 0.8, 1], "titlePadding": 13, "labelOverlap": false, "labelExpr": "datum.value == 0 ? '0' : datum.value == 1 ? '1' : replace(format(datum.value, '.1f'), '0.', '.')"}}, "x2": {"field": "q1"}, "y": {"field": "lo", "type": "quantitative", "title": "Home quarantine"}}},
            {"data": {"name": "ols"}, "transform": [{"filter": "datum.panel == 'p5'"}], "mark": {"type": "rule", "color": "#111", "strokeWidth": 1.6, "strokeDash": [9, 5]},
             "encoding": {"x": {"field": "q0", "type": "quantitative", "title": "Quantile", "axis": {"values": [0, 0.2, 0.4, 0.6, 0.8, 1], "titlePadding": 13, "labelOverlap": false, "labelExpr": "datum.value == 0 ? '0' : datum.value == 1 ? '1' : replace(format(datum.value, '.1f'), '0.', '.')"}}, "x2": {"field": "q1"}, "y": {"field": "b", "type": "quantitative", "title": "Home quarantine"}}},
            {"data": {"name": "ols"}, "transform": [{"filter": "datum.panel == 'p5'"}], "mark": {"type": "rule", "color": "#d23a4e", "strokeWidth": 1.6, "strokeDash": [2, 12], "strokeDashOffset": 3.5},
             "encoding": {"x": {"field": "q0", "type": "quantitative", "title": "Quantile", "axis": {"values": [0, 0.2, 0.4, 0.6, 0.8, 1], "titlePadding": 13, "labelOverlap": false, "labelExpr": "datum.value == 0 ? '0' : datum.value == 1 ? '1' : replace(format(datum.value, '.1f'), '0.', '.')"}}, "x2": {"field": "q1"}, "y": {"field": "b", "type": "quantitative", "title": "Home quarantine"}}},
            {"data": {"name": "qr"}, "transform": [{"filter": "datum.panel == 'p5'"}], "mark": {"type": "line", "color": "#5c8b74", "strokeWidth": 2},
             "encoding": {"x": {"field": "q", "type": "quantitative", "title": "Quantile", "axis": {"values": [0, 0.2, 0.4, 0.6, 0.8, 1], "titlePadding": 13, "labelOverlap": false, "labelExpr": "datum.value == 0 ? '0' : datum.value == 1 ? '1' : replace(format(datum.value, '.1f'), '0.', '.')"}}, "y": {"field": "b", "type": "quantitative", "title": "Home quarantine"}}}
          ]
        }
      ]
    }
  ]
}
